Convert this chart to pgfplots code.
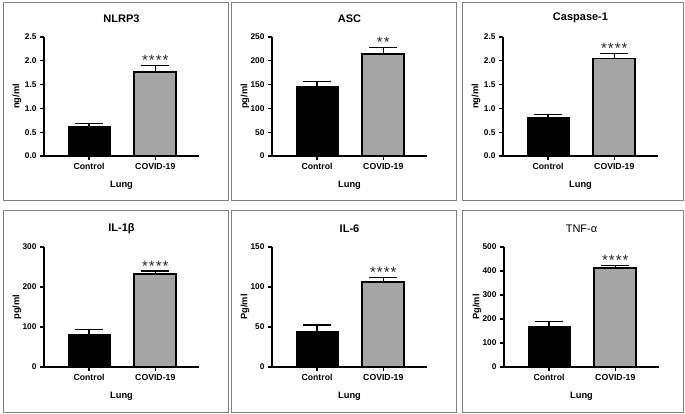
\documentclass[border=0pt]{standalone}
\usepackage{fontspec}
\setmainfont{Liberation Sans}
\usepackage{pgfplots}
\pgfplotsset{compat=1.18}
\definecolor{covid}{RGB}{165,165,165}
\definecolor{boxgray}{RGB}{128,128,128}

\tikzset{sigstar/.style={anchor=base, font=\fontsize{15}{15}\selectfont, text=black!85}}

\pgfplotsset{
  panel/.style={
    scale only axis, width=155pt, height=119pt, anchor=south west,
    xmin=-0.68, xmax=1.66, ymin=0,
    axis x line*=bottom, axis y line*=left,
    xtick={0,1}, xticklabels={Control,COVID-19},
    tick align=outside, major tick length=4pt,
    axis line style={line width=1.2pt, black},
    tick style={line width=1.2pt, black},
    /pgf/number format/assume math mode=true,
    yticklabel style={font=\bfseries\fontsize{8.3}{9}\selectfont},
    xticklabel style={font=\bfseries\fontsize{8.7}{9}\selectfont},
    xlabel={Lung},
    xlabel style={at={(axis description cs:0.5,-0.25)}, anchor=center, font=\bfseries\fontsize{9.3}{10}\selectfont},
    ylabel style={at={(axis description cs:-0.174,0.5)}, anchor=center, font=\bfseries\fontsize{9.3}{10}\selectfont},
    title style={at={(axis description cs:0.5,1.107)}, anchor=center, font=\bfseries\fontsize{11}{12}\selectfont},
    clip=false,
  },
  dec1/.style={yticklabel style={/pgf/number format/.cd, fixed, fixed zerofill, precision=1}},
  ctrl/.style={ybar, bar width=42pt, bar shift=0pt, fill=black, draw=black, line width=1pt,
    error bars/.cd, y dir=plus, y explicit,
    error bar style={line width=1.2pt, black},
    error mark options={rotate=90, mark size=14pt, line width=1.2pt, black}},
  cov/.style={ybar, bar width=42pt, bar shift=0pt, fill=covid, draw=black, line width=1.8pt,
    error bars/.cd, y dir=plus, y explicit,
    error bar style={line width=1.2pt, black},
    error mark options={rotate=90, mark size=14pt, line width=1.2pt, black}},
}

\begin{document}
\begin{tikzpicture}
\useasboundingbox (0,0) rectangle (685pt,413pt);
% panel frames
\draw[boxgray, line width=1pt] (3pt,213pt) rectangle (228pt,410pt);
\draw[boxgray, line width=1pt] (231pt,213pt) rectangle (456pt,410pt);
\draw[boxgray, line width=1pt] (462pt,213pt) rectangle (683pt,410pt);
\draw[boxgray, line width=1pt] (3pt,1pt) rectangle (228pt,203pt);
\draw[boxgray, line width=1pt] (231pt,1pt) rectangle (456pt,203pt);
\draw[boxgray, line width=1pt] (462pt,1pt) rectangle (683pt,203pt);

% NLRP3
\begin{axis}[panel, dec1, at={(44pt,257pt)}, title={NLRP3}, ylabel={ng/ml},
  ymax=2.5, ytick={0,0.5,1,1.5,2,2.5}]
\addplot[ctrl] coordinates {(0,0.61) +- (0,0.08)};
\addplot[cov] coordinates {(1,1.76) +- (0,0.14)};
\node[sigstar] at (axis cs:1,1.90) {*\kern1pt*\kern1pt*\kern1pt*};
\end{axis}

% ASC
\begin{axis}[panel, at={(272pt,257pt)}, title={ASC}, ylabel={pg/ml},
  ymax=250, ytick={0,50,100,150,200,250}]
\addplot[ctrl] coordinates {(0,145) +- (0,12)};
\addplot[cov] coordinates {(1,213.5) +- (0,14)};
\node[sigstar] at (axis cs:1,227.5) {*\kern1pt*};
\end{axis}

% Caspase-1
\begin{axis}[panel, dec1, at={(503pt,257pt)}, title={Caspase-1}, ylabel={ng/ml},
  ymax=2.5, ytick={0,0.5,1,1.5,2,2.5}]
\addplot[ctrl] coordinates {(0,0.805) +- (0,0.065)};
\addplot[cov] coordinates {(1,2.05) +- (0,0.10)};
\node[sigstar] at (axis cs:1,2.15) {*\kern1pt*\kern1pt*\kern1pt*};
\end{axis}

% IL-1beta
\begin{axis}[panel, height=120pt, at={(44pt,46pt)}, title={IL-1β}, ylabel={pg/ml},
  title style={at={(axis description cs:0.5,1.101)}},
  xlabel style={at={(axis description cs:0.5,-0.248)}},
  ymax=300, ytick={0,100,200,300}]
\addplot[ctrl] coordinates {(0,81) +- (0,13)};
\addplot[cov] coordinates {(1,232.5) +- (0,7.5)};
\node[sigstar] at (axis cs:1,240) {*\kern1pt*\kern1pt*\kern1pt*};
\end{axis}

% IL-6
\begin{axis}[panel, height=120pt, at={(272pt,46pt)}, title={IL-6}, ylabel={Pg/ml},
  title style={at={(axis description cs:0.5,1.101)}},
  xlabel style={at={(axis description cs:0.5,-0.248)}},
  ymax=150, ytick={0,50,100,150}]
\addplot[ctrl] coordinates {(0,44.8) +- (0,7.6)};
\addplot[cov] coordinates {(1,106) +- (0,5.9)};
\node[sigstar] at (axis cs:1,111.9) {*\kern1pt*\kern1pt*\kern1pt*};
\end{axis}

% TNF-alpha
\begin{axis}[panel, height=120pt, at={(504pt,46pt)}, title={TNF-α}, ylabel={Pg/ml},
  title style={at={(axis description cs:0.5,1.101)}, font=\fontsize{11}{12}\selectfont},
  xlabel style={at={(axis description cs:0.5,-0.248)}},
  ymax=500, ytick={0,100,200,300,400,500}]
\addplot[ctrl] coordinates {(0,166.7) +- (0,23)};
\addplot[cov] coordinates {(1,412.5) +- (0,9.5)};
\node[sigstar] at (axis cs:1,422) {*\kern1pt*\kern1pt*\kern1pt*};
\end{axis}
\end{tikzpicture}
\end{document}
